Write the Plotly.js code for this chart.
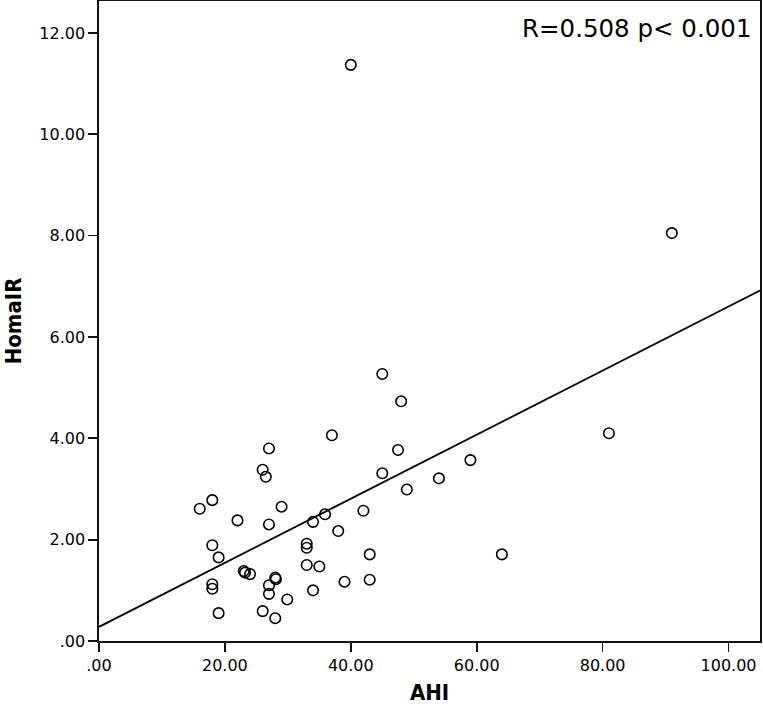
<!DOCTYPE html>
<html>
<head>
<meta charset="utf-8">
<script src="https://cdn.plot.ly/plotly-3.0.1.min.js"></script>
<style>html,body{margin:0;padding:0;background:#fff;}#chart{width:763px;height:705px;}</style>
</head>
<body>
<div id="chart"></div>
<script>
// AHI values (x)
const ahi = [40, 91, 81, 45, 48, 37, 47.5, 59, 45, 54, 48.9, 42, 35.9, 34, 38, 33, 33, 43, 64, 33, 35, 39, 43, 34,
             27, 26, 26.5, 18, 16, 29, 22, 27, 18, 19, 23, 23.2, 24, 28, 28.1, 27, 27, 29.9, 18, 18, 19, 26, 28];
// HomaIR values (y)
const homaIR = [11.37, 8.05, 4.10, 5.27, 4.73, 4.06, 3.77, 3.57, 3.31, 3.21, 2.99, 2.57, 2.50, 2.35, 2.17, 1.92, 1.84, 1.71, 1.71, 1.50, 1.47, 1.17, 1.21, 1.00,
                3.80, 3.38, 3.24, 2.78, 2.61, 2.65, 2.38, 2.30, 1.89, 1.65, 1.38, 1.35, 1.32, 1.25, 1.22, 1.10, 0.93, 0.82, 1.12, 1.03, 0.55, 0.59, 0.45];
// Linear fit
const fitIntercept = 0.28;
const fitSlope = 0.0632;
// Axis ticks
const xTickVals = [0, 20, 40, 60, 80, 100];
const xTickText = ['.00', '20.00', '40.00', '60.00', '80.00', '100.00'];
const yTickVals = [0, 2, 4, 6, 8, 10, 12];
const yTickText = ['.00', '2.00', '4.00', '6.00', '8.00', '10.00', '12.00'];
const xRange = [0, 105];
const yRange = [0, 12.63];

const fitX = xRange.slice();
const fitY = fitX.map(v => fitIntercept + fitSlope * v);

const traces = [
  {x: fitX, y: fitY, mode: 'lines', type: 'scatter', line: {color: '#000', width: 1.9}, hoverinfo: 'skip', cliponaxis: true},
  {x: ahi, y: homaIR, mode: 'markers', type: 'scatter',
   marker: {symbol: 'circle-open', size: 10.5, color: '#000', line: {color: '#000', width: 1.6}}}
];

const axisFont = {family: 'DejaVu Sans, sans-serif', size: 16, color: '#000'};
const titleFont = {family: 'DejaVu Sans Condensed, DejaVu Sans, sans-serif', size: 22, color: '#000', weight: 'bold'};

const layout = {
  width: 763, height: 705,
  margin: {l: 99, r: 3, t: 1, b: 64},
  paper_bgcolor: '#fff', plot_bgcolor: '#fff',
  showlegend: false,
  xaxis: {
    range: xRange, tickvals: xTickVals, ticktext: xTickText,
    showgrid: false, zeroline: false, showline: true, mirror: true,
    linecolor: '#111', linewidth: 1.7, ticks: 'outside', ticklen: 9, tickwidth: 1.7, tickcolor: '#111',
    tickfont: axisFont,
    title: {text: 'AHI', font: titleFont, standoff: 13}
  },
  yaxis: {
    range: yRange, tickvals: yTickVals, ticktext: yTickText,
    showgrid: false, zeroline: false, showline: true, mirror: true,
    linecolor: '#111', linewidth: 1.7, ticks: 'outside', ticklen: 9, tickwidth: 1.7, tickcolor: '#111',
    tickfont: axisFont,
    title: {text: 'HomaIR', font: titleFont, standoff: 11}
  },
  annotations: [{
    text: 'R=0.508 p< 0.001', xref: 'paper', yref: 'paper', x: 1, y: 1,
    xanchor: 'right', yanchor: 'top', xshift: -7, yshift: -11, showarrow: false,
    font: {family: 'DejaVu Sans, sans-serif', size: 24.5, color: '#000'}
  }]
};

Plotly.newPlot('chart', traces, layout, {displayModeBar: false, staticPlot: true});
</script>
</body>
</html>
